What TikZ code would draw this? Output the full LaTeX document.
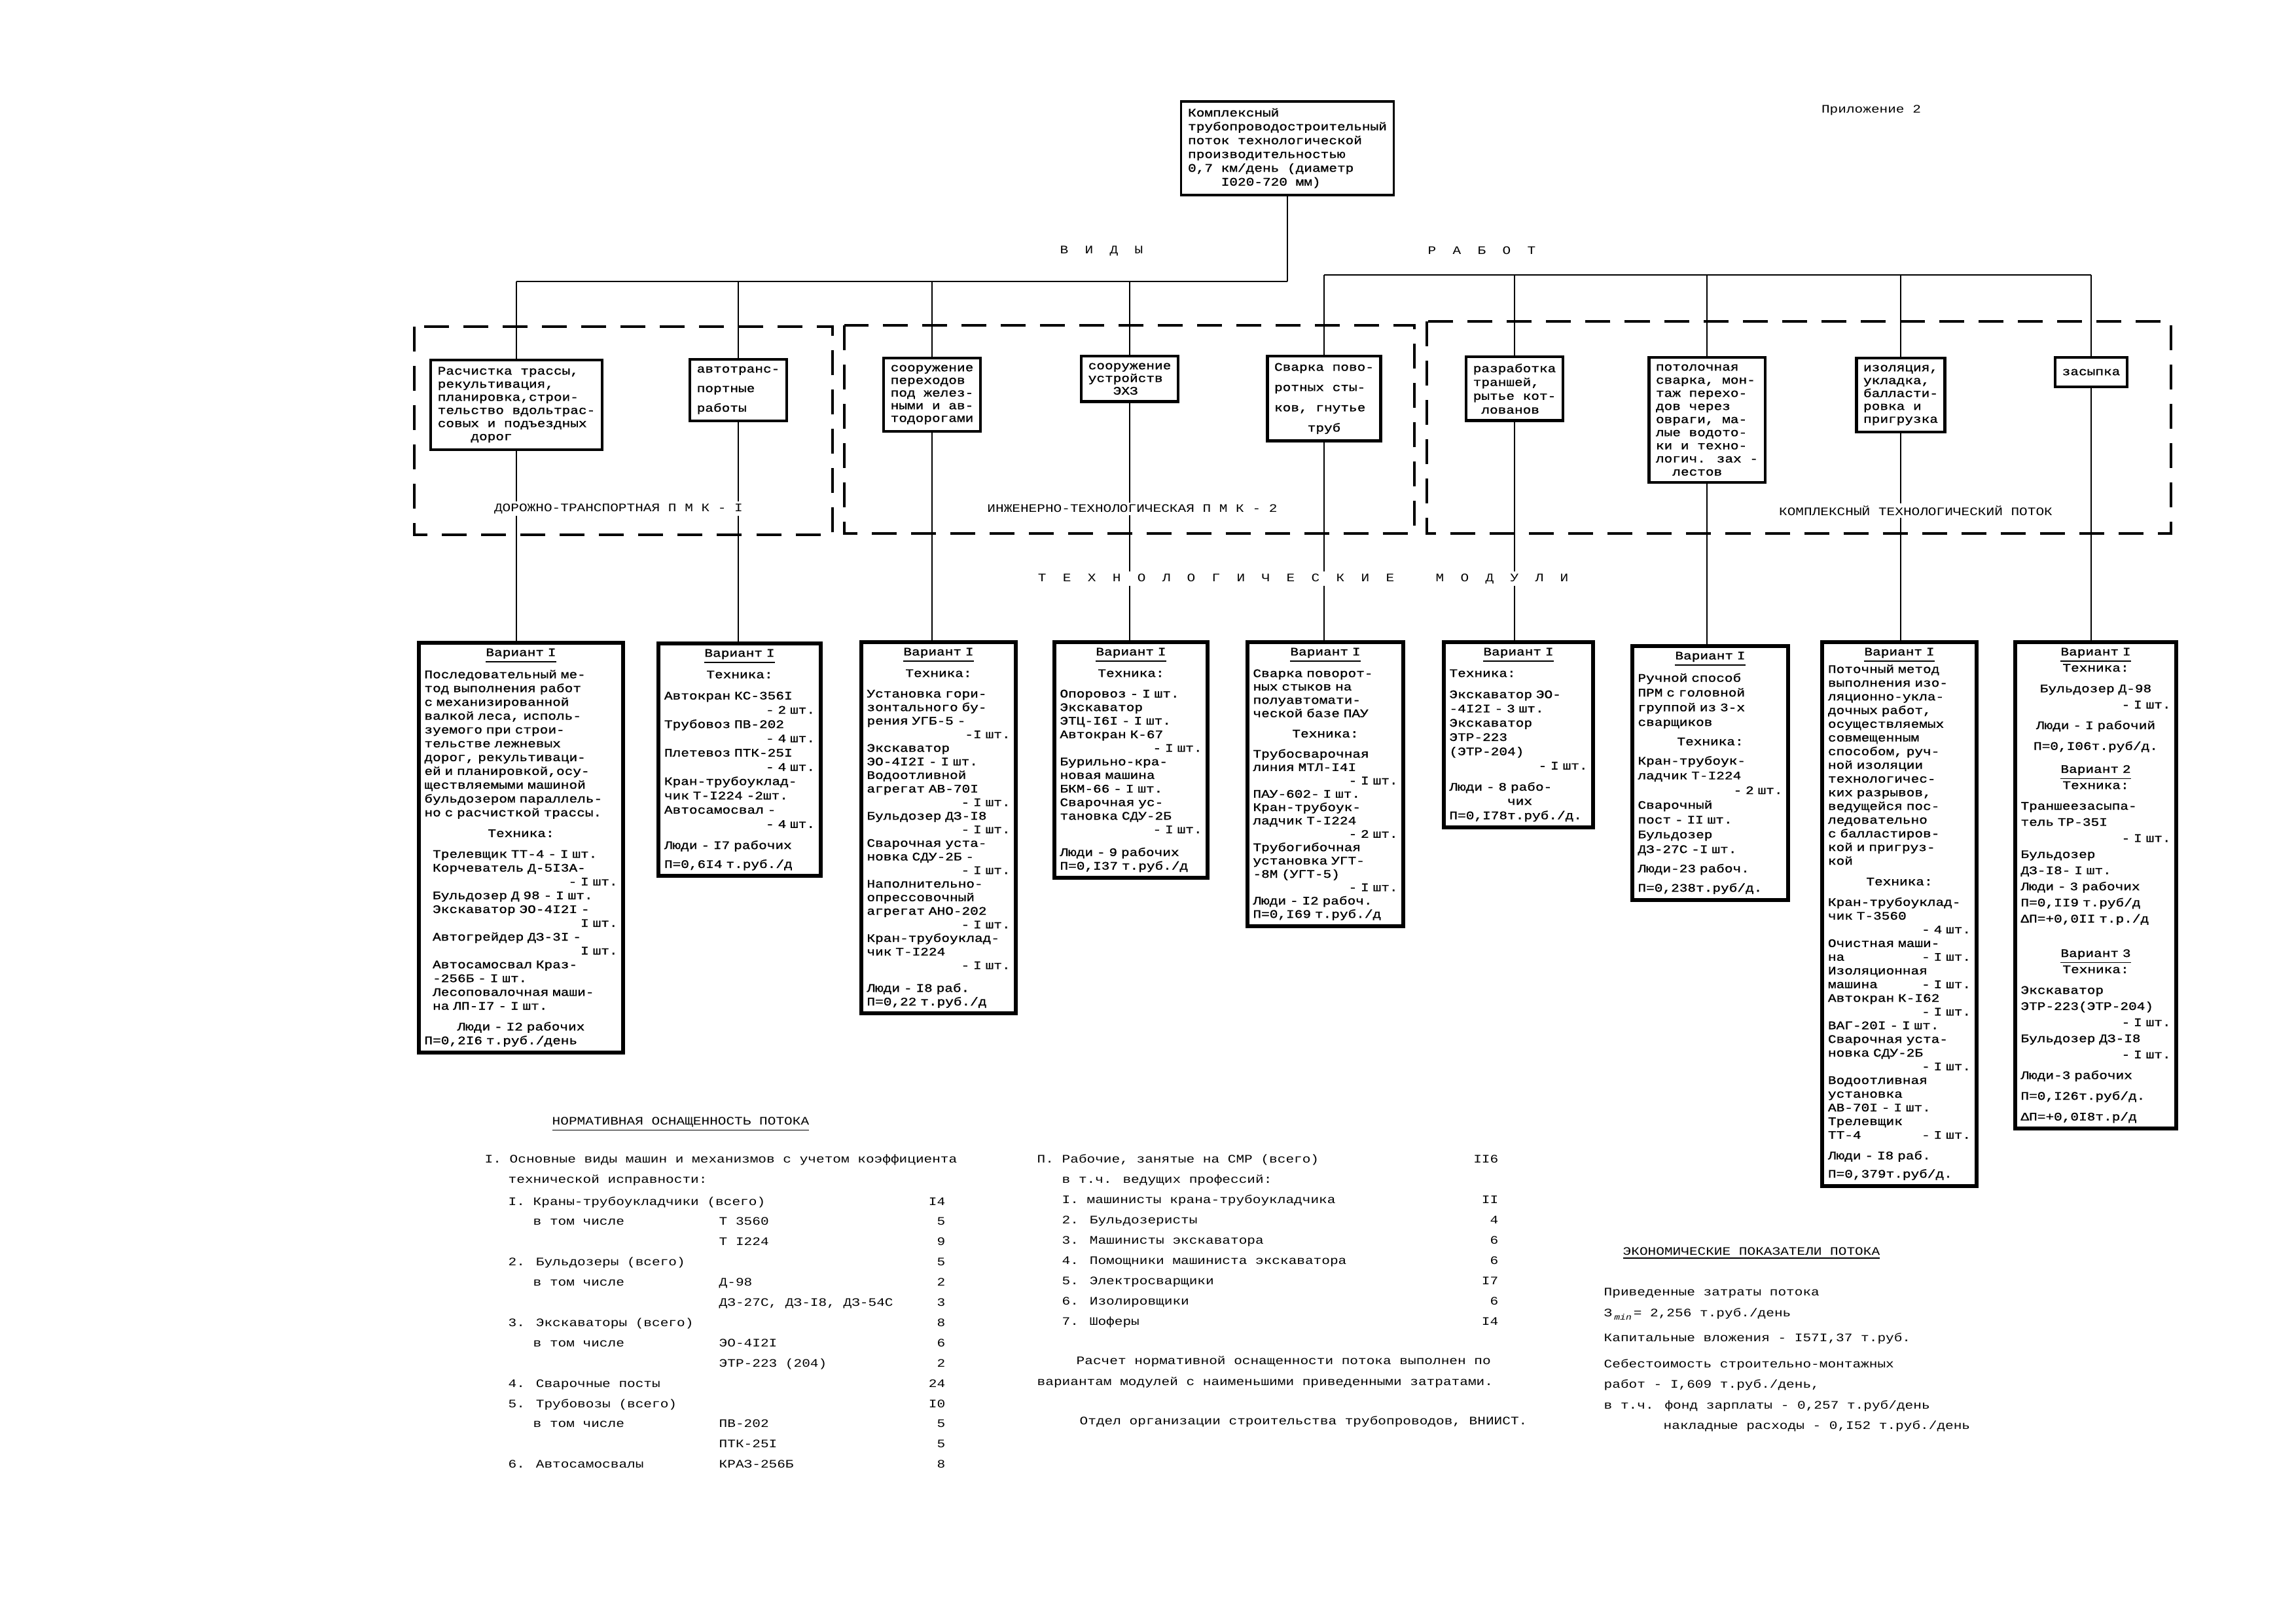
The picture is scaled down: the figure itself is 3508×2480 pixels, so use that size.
\documentclass[tikz,border=0pt]{standalone}
\usepackage{fontspec}
\newfontfamily\tw[FakeStretch=1.2]{Liberation Mono}
\newfontfamily\twb[FakeStretch=1.2, FakeBold=1.2]{Liberation Mono}
\newlength{\chw}\setlength{\chw}{3.6pt}
\newcommand{\indn}[1]{\hspace*{#1\chw}}
\newcommand{\tailr}[1]{\hspace*{\fill}#1}
\newcommand{\centred}[1]{\hspace*{\fill}#1\hspace*{\fill}\mbox{}}

\begin{document}
\begin{tikzpicture}[x=0.01cm, y=-0.01cm,
  every node/.style={inner sep=2pt},
  topbox/.style={draw, line width=1.1pt, fill=white, inner sep=3pt, anchor=north, align=left, font=\twb\fontsize{5}{6}\selectfont},
  workbox/.style={draw, line width=1.2pt, fill=white, inner sep=3pt, anchor=north, align=left, font=\twb\fontsize{5}{#1}\selectfont},
  modbox/.style 2 args={draw, line width=1.7pt, fill=white, inner sep=2.5pt, anchor=north, align=left, text width=#1cm, font=\twb\fontsize{5}{#2}\selectfont},
  grp/.style={line width=0.9pt, dash pattern=on 0.38cm off 0.22cm},
  conn/.style={line width=0.8pt},
  lbl/.style={font=\tw\fontsize{5}{6}\selectfont, fill=white, inner sep=1pt},
  txt/.style={font=\tw\fontsize{5}{6}\selectfont, anchor=base west, inner sep=0pt},
  num/.style={font=\tw\fontsize{5}{6}\selectfont, anchor=base east, inner sep=0pt}]
  \fill[white] (0,0) rectangle (3508,2480);
  \useasboundingbox (0,0) rectangle (3508,2480);

  % groups of works
  \draw[grp] (633,499) rectangle (1272,817);
  \draw[grp] (1290,497) rectangle (2161,815);
  \draw[grp] (2180,491) rectangle (3317,815);

  % head
  \node[topbox] (top) at (1967,153) {Комплексный\\
    трубопроводостроительный\\
    поток технологической\\
    производительностью\\
    0,7 км/день (диаметр\\
    \indn{4}I020-720 мм)};
  \node[lbl] (appx) at (2859,168) {Приложение 2};
  \node[lbl] (vidy) at (1683,383) {В~~И~~Д~~Ы};
  \node[lbl] (rabot) at (2264,383) {Р~~А~~Б~~О~~Т};
  \coordinate (busL) at (789,430);
  \coordinate (busR) at (2023,420);

  % kinds of works
  \node[workbox=5.7] (w1) at (789,548) {Расчистка трассы,\\ рекультивация,\\ планировка,строи-\\ тельство вдольтрас-\\ совых и подъездных\\ \indn{4}дорог};
  \node[workbox=8.5] (w2) at (1128,547) {автотранс-\\ портные\\ работы};
  \node[workbox=5.5] (w3) at (1424,545) {сооружение\\ переходов\\ под желез-\\ ными и ав-\\ тодорогами};
  \node[workbox=5.5] (w4) at (1726,542) {сооружение\\ устройств\\ \indn{3}ЭХЗ};
  \node[workbox=8.8] (w5) at (2023,542) {Сварка пово-\\ ротных сты-\\ ков, гнутье\\ \indn{4}труб};
  \node[workbox=6] (w6) at (2314,543) {разработка\\ траншей,\\ рытье кот-\\ \indn{1}лованов};
  \node[workbox=5.7] (w7) at (2608,544) {потолочная\\ сварка, мон-\\ таж перехо-\\ дов через\\ овраги, ма-\\ лые водото-\\ ки и техно-\\ логич. зах -\\ \indn{2}лестов};
  \node[workbox=5.6] (w8) at (2904,545) {изоляция,\\ укладка,\\ балласти-\\ ровка и\\ пригрузка};
  \node[workbox=6, inner ysep=5pt] (w9) at (3195,544) {засыпка};

  % technological modules
  \node[modbox={2.95}{6}] (m1) at (796,979) {\centred{\underline{Вариант I}}\\[2pt]
    Последовательный ме-\\ тод выполнения работ\\ с механизированной\\ валкой леса, исполь-\\
    зуемого при строи-\\ тельстве лежневых\\ дорог, рекультиваци-\\ ей и планировкой,осу-\\
    ществляемыми машиной\\ бульдозером параллель-\\ но с расчисткой трассы.\\[3pt]
    \centred{Техника:}\\[3pt]
    \indn{1}Трелевщик ТТ-4 - I шт.\\ \indn{1}Корчеватель Д-5I3А-\\ \tailr{- I шт.}\\
    \indn{1}Бульдозер Д 98 - I шт.\\ \indn{1}Экскаватор ЭО-4I2I -\\ \tailr{I шт.}\\
    \indn{1}Автогрейдер ДЗ-3I -\\ \tailr{I шт.}\\
    \indn{1}Автосамосвал Краз-\\ \indn{1}-256Б - I шт.\\ \indn{1}Лесоповалочная маши-\\ \indn{1}на ЛП-I7 - I шт.\\[3pt]
    \centred{Люди - I2 рабочих}\\ П=0,2I6 т.руб./день};
  \node[modbox={2.30}{6.2}] (m2) at (1130,980) {\centred{\underline{Вариант I}}\\[2pt]
    \centred{Техника:}\\[3pt]
    Автокран КС-356I\\ \tailr{- 2 шт.}\\ Трубовоз ПВ-202\\ \tailr{- 4 шт.}\\
    Плетевоз ПТК-25I\\ \tailr{- 4 шт.}\\ Кран-трубоуклад-\\ чик Т-I224 -2шт.\\
    Автосамосвал -\\ \tailr{- 4 шт.}\\[3pt]
    Люди - I7 рабочих\\[2pt] П=0,6I4 т.руб./д};
  \node[modbox={2.19}{5.9}] (m3) at (1434,978) {\centred{\underline{Вариант I}}\\[2pt]
    \centred{Техника:}\\[3pt]
    Установка гори-\\ зонтального бу-\\ рения УГБ-5 -\\ \tailr{-I шт.}\\
    Экскаватор\\ ЭО-4I2I - I шт.\\ Водоотливной\\ агрегат АВ-70I\\ \tailr{- I шт.}\\
    Бульдозер ДЗ-I8\\ \tailr{- I шт.}\\ Сварочная уста-\\ новка СДУ-2Б -\\ \tailr{- I шт.}\\
    Наполнительно-\\ опрессовочный\\ агрегат АНО-202\\ \tailr{- I шт.}\\
    Кран-трубоуклад-\\ чик Т-I224\\ \tailr{- I шт.}\\[4pt]
    Люди - I8 раб.\\ П=0,22 т.руб./д};
  \node[modbox={2.17}{5.9}] (m4) at (1728,978) {\centred{\underline{Вариант I}}\\[2pt]
    \centred{Техника:}\\[3pt]
    Опоровоз - I шт.\\ Экскаватор\\ ЭТЦ-I6I - I шт.\\ Автокран К-67\\ \tailr{- I шт.}\\
    Бурильно-кра-\\ новая машина\\ БКМ-66 - I шт.\\ Сварочная ус-\\ тановка СДУ-2Б\\ \tailr{- I шт.}\\[4pt]
    Люди - 9 рабочих\\ П=0,I37 т.руб./д};
  \node[modbox={2.21}{5.8}] (m5) at (2025,978) {\centred{\underline{Вариант I}}\\[2pt]
    Сварка поворот-\\ ных стыков на\\ полуавтомати-\\ ческой базе ПАУ\\[3pt]
    \centred{Техника:}\\[3pt]
    Трубосварочная\\ линия МТЛ-I4I\\ \tailr{- I шт.}\\ ПАУ-602- I шт.\\
    Кран-трубоук-\\ ладчик Т-I224\\ \tailr{- 2 шт.}\\
    Трубогибочная\\ установка УГТ-\\ -8М (УГТ-5)\\ \tailr{- I шт.}\\
    Люди - I2 рабоч.\\ П=0,I69 т.руб./д};
  \node[modbox={2.11}{6.2}] (m6) at (2320,978) {\centred{\underline{Вариант I}}\\[2pt]
    Техника:\\[3pt]
    Экскаватор ЭО-\\ -4I2I - 3 шт.\\ Экскаватор\\ ЭТР-223\\ (ЭТР-204)\\ \tailr{- I шт.}\\[3pt]
    Люди - 8 рабо-\\ \indn{7}чих\\ П=0,I78т.руб./д.};
  \node[modbox={2.21}{6.4}] (m7) at (2613,984) {\centred{\underline{Вариант I}}\\[2pt]
    Ручной способ\\ ПРМ с головной\\ группой из 3-х\\ сварщиков\\[2pt]
    \centred{Техника:}\\[2pt]
    Кран-трубоук-\\ ладчик Т-I224\\ \tailr{- 2 шт.}\\ Сварочный\\ пост - II шт.\\
    Бульдозер\\ ДЗ-27С -I шт.\\[2pt]
    Люди-23 рабоч.\\[2pt] П=0,238т.руб/д.};
  \node[modbox={2.18}{5.95}] (m8) at (2902,978) {\centred{\underline{Вариант I}}\\
    Поточный метод\\ выполнения изо-\\ ляционно-укла-\\ дочных работ,\\ осуществляемых\\
    совмещенным\\ способом, руч-\\ ной изоляции\\ технологичес-\\ ких разрывов,\\
    ведущейся пос-\\ ледовательно\\ с балластиров-\\ кой и пригруз-\\ кой\\[3pt]
    \centred{Техника:}\\[3pt]
    Кран-трубоуклад-\\ чик Т-3560\\ \tailr{- 4 шт.}\\ Очистная маши-\\ на\tailr{- I шт.}\\
    Изоляционная\\ машина\tailr{- I шт.}\\ Автокран К-I62\\ \tailr{- I шт.}\\
    ВАГ-20I - I шт.\\ Сварочная уста-\\ новка СДУ-2Б\\ \tailr{- I шт.}\\
    Водоотливная\\ установка\\ АВ-70I - I шт.\\ Трелевщик\\ ТТ-4\tailr{- I шт.}\\[3pt]
    Люди - I8 раб.\\[2pt] П=0,379т.руб/д.};
  \node[modbox={2.29}{7}] (m9) at (3202,978) {\centred{\underline{Вариант I}}\\
    \centred{Техника:}\\[2pt]
    \centred{Бульдозер Д-98}\\ \tailr{- I шт.}\\[2pt]
    \centred{Люди - I рабочий}\\[2pt] \centred{П=0,I06т.руб/д.}\\[3pt]
    \centred{\underline{Вариант 2}}\\ \centred{Техника:}\\[2pt]
    Траншеезасыпа-\\ тель ТР-35I\\ \tailr{- I шт.}\\ Бульдозер\\ ДЗ-I8- I шт.\\
    Люди - 3 рабочих\\ П=0,II9 т.руб/д\\ ΔП=+0,0II т.р./д\\[8pt]
    \centred{\underline{Вариант 3}}\\ \centred{Техника:}\\[2pt]
    Экскаватор\\ ЭТР-223(ЭТР-204)\\ \tailr{- I шт.}\\ Бульдозер ДЗ-I8\\ \tailr{- I шт.}\\[2pt]
    Люди-3 рабочих\\[2pt] П=0,I26т.руб/д.\\[2pt] ΔП=+0,0I8т.р/д};

  % connectors
  \draw[conn] (top.south) -- (top.south |- busL);
  \draw[conn] (w1.north |- busL) -- (top.south |- busL);
  \draw[conn] (w5.north |- busR) -- (w9.north |- busR);
  \foreach \i in {1,...,4}
    \draw[conn] (w\i.north |- busL) -- (w\i.north);
  \foreach \i in {5,...,9}
    \draw[conn] (w\i.north |- busR) -- (w\i.north);
  \foreach \i in {1,...,9}
    \draw[conn] (w\i.south) -- (w\i.south |- m\i.north);

  % labels over the lines
  \node[lbl] (g1) at (945,777) {ДОРОЖНО-ТРАНСПОРТНАЯ П М К - I};
  \node[lbl] (g2) at (1730,777) {ИНЖЕНЕРНО-ТЕХНОЛОГИЧЕСКАЯ П М К - 2};
  \node[lbl] (g3) at (2927,780) {КОМПЛЕКСНЫЙ ТЕХНОЛОГИЧЕСКИЙ ПОТОК};
  \node[lbl] (tmod) at (1991,884) {Т~~Е~~Х~~Н~~О~~Л~~О~~Г~~И~~Ч~~Е~~С~~К~~И~~Е~~~~~М~~О~~Д~~У~~Л~~И};

  % normative equipment
  \node[txt] (normt) at (843,1718) {\underline{НОРМАТИВНАЯ ОСНАЩЕННОСТЬ ПОТОКА}};
  \node[txt] (norm1) at (740,1776) {I. Основные виды машин и механизмов с учетом коэффициента};
  \node[txt] (norm2) at (776,1807) {технической исправности:};
  \foreach \rw/\ta/\tb/\tc in {0/{I. Краны-трубоукладчики (всего)}/{}/I4,
      1/{\indn{3}в том числе}/{Т 3560}/5, 2/{}/{Т I224}/9,
      3/{2. Бульдозеры (всего)}/{}/5, 4/{\indn{3}в том числе}/{Д-98}/2,
      5/{}/{ДЗ-27С, ДЗ-I8, ДЗ-54С}/3, 6/{3. Экскаваторы (всего)}/{}/8,
      7/{\indn{3}в том числе}/{ЭО-4I2I}/6, 8/{}/{ЭТР-223 (204)}/2,
      9/{4. Сварочные посты}/{}/24, 10/{5. Трубовозы (всего)}/{}/I0,
      11/{\indn{3}в том числе}/{ПВ-202}/5, 12/{}/{ПТК-25I}/5,
      13/{6. Автосамосвалы}/{КРАЗ-256Б}/8}
  {
    \node[txt] (la\rw) at (776,1841+30.9*\rw) {\ta};
    \node[txt] (lb\rw) at (1098,1841+30.9*\rw) {\tb};
    \node[num] (lc\rw) at (1445,1841+30.9*\rw) {\tc};
  }

  % workers
  \node[txt] (wk) at (1584,1776) {П. Рабочие, занятые на СМР (всего)};
  \node[num] (wkn) at (2290,1776) {II6};
  \node[txt] (wk2) at (1622,1807) {в т.ч. ведущих профессий:};
  \foreach \rw/\ta/\tc in {0/{I. машинисты крана-трубоукладчика}/II,
      1/{2. Бульдозеристы}/4, 2/{3. Машинисты экскаватора}/6,
      3/{4. Помощники машиниста экскаватора}/6, 4/{5. Электросварщики}/I7,
      5/{6. Изолировщики}/6, 6/{7. Шоферы}/I4}
  {
    \node[txt] (pa\rw) at (1622,1838+31*\rw) {\ta};
    \node[num] (pc\rw) at (2290,1838+31*\rw) {\tc};
  }
  \node[txt] (calc1) at (1644,2084) {Расчет нормативной оснащенности потока выполнен по};
  \node[txt] (calc2) at (1584,2116) {вариантам модулей с наименьшими приведенными затратами.};
  \node[txt] (dept) at (1649,2176) {Отдел организации строительства трубопроводов, ВНИИСТ.};

  % economic figures
  \node[txt] (ekt) at (2479,1917) {\underline{ЭКОНОМИЧЕСКИЕ ПОКАЗАТЕЛИ ПОТОКА}};
  \node[txt] (ek1) at (2450,1979) {Приведенные затраты потока};
  \node[txt] (ek2) at (2450,2011) {З\,\raisebox{-1.5pt}{\fontsize{3.5}{4}\selectfont\itshape min}\,= 2,256 т.руб./день};
  \node[txt] (ek3) at (2450,2049) {Капитальные вложения - I57I,37 т.руб.};
  \node[txt] (ek4) at (2450,2089) {Себестоимость строительно-монтажных};
  \node[txt] (ek5) at (2450,2120) {работ - I,609 т.руб./день,};
  \node[txt] (ek6) at (2450,2152) {в т.ч. фонд зарплаты - 0,257 т.руб/день};
  \node[txt] (ek7) at (2541,2183) {накладные расходы - 0,I52 т.руб./день};
\end{tikzpicture}
\end{document}
